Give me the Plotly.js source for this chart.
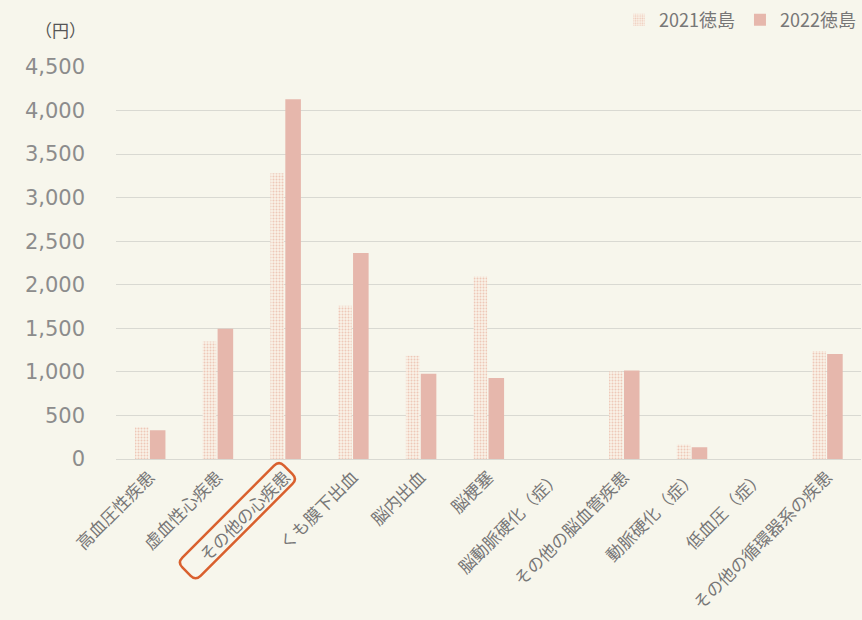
<!DOCTYPE html>
<html>
<head>
<meta charset="utf-8">
<script src="https://cdn.plot.ly/plotly-3.0.1.min.js"></script>
<style>
html,body{margin:0;padding:0;background:#f7f6ec;}
#chart{width:862px;height:620px;}
</style>
</head>
<body>
<div id="chart"></div>
<script>
var categories = ['高血圧性疾患','虚血性心疾患','その他の心疾患','くも膜下出血','脳内出血','脳梗塞','脳動脈硬化（症）','その他の脳血管疾患','動脈硬化（症）','低血圧（症）','その他の循環器系の疾患'];
var values2021 = [365, 1350, 3280, 1760, 1185, 2095, null, 1005, 165, null, 1240];
var values2022 = [330, 1495, 4130, 2365, 980, 930, null, 1015, 135, null, 1205];
var seriesNames = ['2021徳島', '2022徳島'];
var yTicks = [0, 500, 1000, 1500, 2000, 2500, 3000, 3500, 4000, 4500];
var unitLabel = '（円）';
var highlightCategory = 'その他の心疾患';

var FONT = '"Noto Sans CJK JP", "Noto Sans", sans-serif';
var NUMFONT = '"DejaVu Sans", "Noto Sans", sans-serif';
var BG = '#f7f6ec';

var trace2021 = {
  type: 'bar', name: seriesNames[0], x: categories, y: values2021,
  offset: -0.22, width: 0.2,
  marker: {color: '#f9f3e8', line: {width: 0},
    pattern: {shape: '.', fgcolor: '#eec8b8', bgcolor: '#f9f3e8', size: 3, solidity: 0.35}},
  hoverinfo: 'skip'
};
var trace2022 = {
  type: 'bar', name: seriesNames[1], x: categories, y: values2022,
  offset: 0.0, width: 0.23,
  marker: {color: '#e6b7ac', line: {width: 0}},
  hoverinfo: 'skip'
};

var highlightPath = 'M -1.35 -6.61 L 7.15 -15.05 Q 12.1 -20 7.15 -24.95 L -84.75 -116.85 Q -89.7 -121.8 -94.65 -116.85 L -102.95 -108.45 Q -107.9 -103.5 -102.95 -98.55 L -11.25 -6.61 Q -6.3 -1.66 -1.35 -6.61 Z';
var hiIdx = categories.indexOf(highlightCategory);

var layout = {
  width: 862, height: 620,
  paper_bgcolor: BG, plot_bgcolor: BG,
  margin: {l: 116, r: 1, t: 67, b: 161},
  font: {family: FONT, color: '#7a7a7a'},
  showlegend: true,
  legend: {orientation: 'h', x: 1, xanchor: 'right', y: 1.12, yanchor: 'middle',
    font: {family: FONT, size: 18, color: '#777'}, bgcolor: 'rgba(0,0,0,0)',
    itemwidth: 30, traceorder: 'normal'},
  xaxis: {
    type: 'category', categoryorder: 'array', categoryarray: categories,
    range: [-0.5, categories.length - 0.5],
    tickangle: -45, tickfont: {family: FONT, size: 17, color: '#777'},
    showgrid: false, zeroline: false, showline: false, ticks: '',
    ticklabelstandoff: 4
  },
  yaxis: {
    range: [0, 4500], tickvals: yTicks, tickformat: ',',
    tickfont: {family: NUMFONT, size: 21, color: '#8c8c8c'},
    showgrid: true, gridcolor: '#d9d9d2', gridwidth: 1,
    zeroline: true, zerolinecolor: '#d9d9d2', zerolinewidth: 1,
    showline: false, ticks: '', ticklabelstandoff: 30
  },
  annotations: [{
    text: unitLabel, xref: 'paper', yref: 'paper', x: -0.075, y: 1.095,
    xanchor: 'center', yanchor: 'middle', showarrow: false,
    font: {family: FONT, size: 17, color: '#555'}
  }],
  shapes: [{
    type: 'path', xref: 'paper', yref: 'paper',
    xsizemode: 'pixel', ysizemode: 'pixel',
    xanchor: (hiIdx + 0.5) / categories.length, yanchor: 0,
    path: highlightPath,
    line: {color: '#d9602e', width: 2.5}, fillcolor: 'rgba(0,0,0,0)'
  }]
};

Plotly.newPlot('chart', [trace2021, trace2022], layout, {displayModeBar: false, staticPlot: true});
</script>
</body>
</html>
